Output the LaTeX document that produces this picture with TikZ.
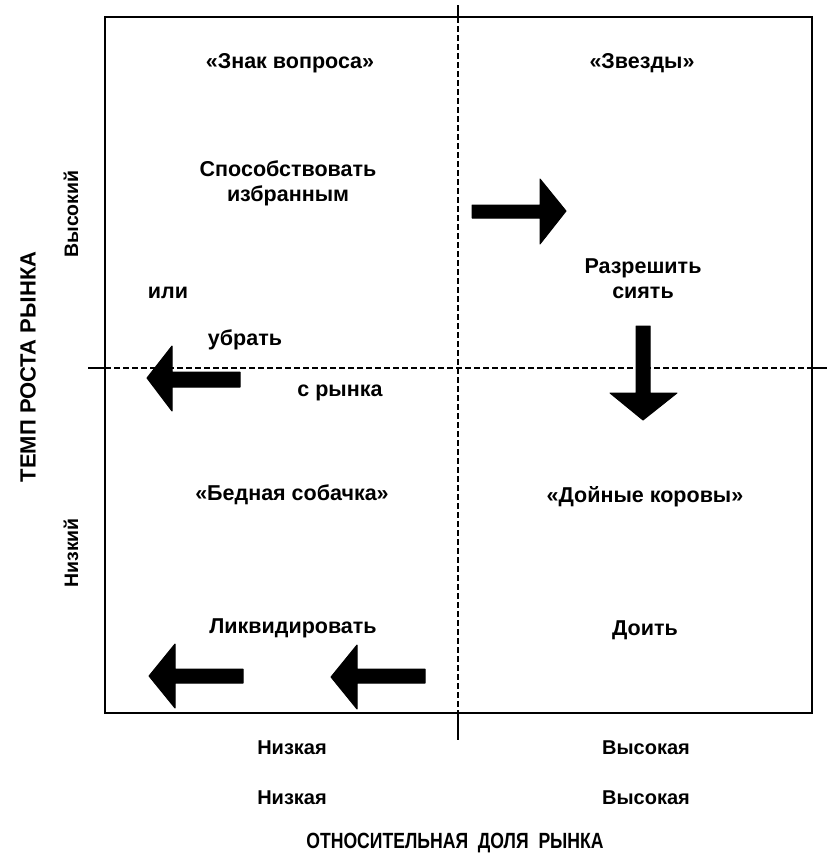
\documentclass[tikz,border=0pt]{standalone}
\usepackage{fontspec}
\setmainfont{Liberation Sans}
\newfontfamily\narrowsans[FakeStretch=0.8]{Liberation Sans}
\begin{document}
\begin{tikzpicture}[x=1pt,y=-1pt,
  frame/.style={line width=2.6pt},
  divider/.style={line width=2pt, dash pattern=on 6pt off 3pt},
  tick/.style={line width=2pt},
  blockarrow/.style={fill=black, draw=black, line width=1pt, line join=round},
  quad/.style={font=\fontsize{21.5}{25}\selectfont\bfseries, align=center},
  axlab/.style={font=\fontsize{20}{24}\selectfont\bfseries},
  sidelab/.style={font=\fontsize{19.5}{23}\selectfont\bfseries},
  ytitle/.style={font=\fontsize{22}{26}\selectfont\bfseries},
  xtitle/.style={font=\narrowsans\fontsize{22}{26}\selectfont\bfseries}]
\useasboundingbox (0,0) rectangle (827,854);

% outer frame
\draw[frame] (105,17) rectangle (812,713);

% dividers (dashed inside the frame, solid where they stick out)
\coordinate (vtop) at (458,5);
\coordinate (vin1) at (458,17);
\coordinate (vin2) at (458,713);
\coordinate (vbot) at (458,740);
\draw[tick] (vtop) -- (vin1);
\draw[divider] (vin1) -- (vin2);
\draw[tick] (vin2) -- (vbot);
\coordinate (hl) at (88,368);
\coordinate (hin1) at (105,368);
\coordinate (hin2) at (812,368);
\coordinate (hr) at (827,368);
\draw[tick] (hl) -- (hin1);
\draw[divider] (hin1) -- (hin2);
\draw[tick] (hin2) -- (hr);

% quadrant texts
\node[quad] (q1) at (290,63) {«Знак вопроса»};
\node[quad] (q1a) at (288,183) {Способствовать\\избранным};
\node[quad] (ili) at (168,293) {или};
\node[quad] (ubr) at (245,340) {убрать};
\node[quad] (sr) at (340,393) {с рынка};
\node[quad] (q2) at (642,63) {«Звезды»};
\node[quad] (q2a) at (643,279) {Разрешить\\сиять};
\node[quad] (q3) at (292,495) {«Бедная собачка»};
\node[quad] (q3a) at (293,628) {Ликвидировать};
\node[quad] (q4) at (645,497) {«Дойные коровы»};
\node[quad] (q4a) at (645,630) {Доить};

% block arrows
% right: question mark -> stars
\fill[blockarrow] (472,205) -- (540,205) -- (540,179) -- (566,211) -- (540,244)
  -- (540,218) -- (472,218) -- cycle;
% down: stars -> cash cows
\fill[blockarrow] (636,326) -- (650,326) -- (650,393) -- (677,393) -- (643,420)
  -- (610,393) -- (636,393) -- cycle;
% left: remove from market
\fill[blockarrow] (240,372) -- (172,372) -- (172,346) -- (147,378) -- (172,411)
  -- (172,387) -- (240,387) -- cycle;
% left: liquidate (two arrows)
\fill[blockarrow] (243,669) -- (175,669) -- (175,644) -- (149,676) -- (175,708)
  -- (175,683) -- (243,683) -- cycle;
\fill[blockarrow] (425,669) -- (357,669) -- (357,645) -- (331,677) -- (357,709)
  -- (357,683) -- (425,683) -- cycle;

% vertical axis
\node[ytitle, rotate=90] (yt) at (28,367) {ТЕМП РОСТА РЫНКА};
\node[sidelab, rotate=90] (yh) at (71,214) {Высокий};
\node[sidelab, rotate=90] (yl) at (71,553) {Низкий};

% horizontal axis
\node[axlab] (xl1) at (292,748) {Низкая};
\node[axlab] (xh1) at (646,748) {Высокая};
\node[axlab] (xl2) at (292,798) {Низкая};
\node[axlab] (xh2) at (646,798) {Высокая};
\node[xtitle] (xt) at (455,843) {ОТНОСИТЕЛЬНАЯ\ \ ДОЛЯ\ \ РЫНКА};
\end{tikzpicture}
\end{document}
